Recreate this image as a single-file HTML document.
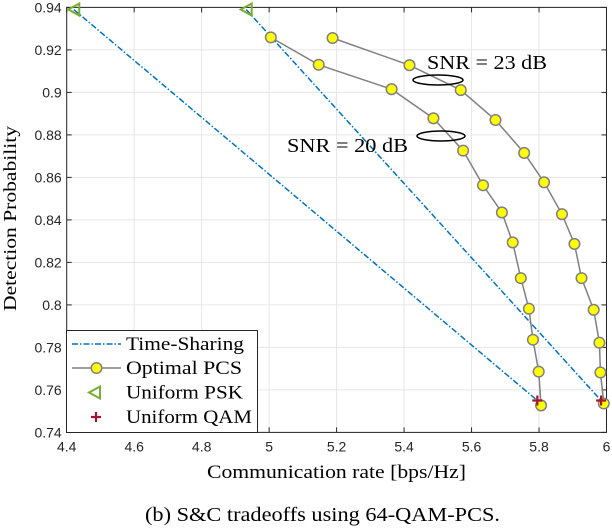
<!DOCTYPE html>
<html><head><meta charset="utf-8"><style>
html,body{margin:0;padding:0;background:#fff;}
svg{display:block;}
.tick{font-family:"Liberation Sans",sans-serif;font-size:14px;fill:#262626;}
.serif{font-family:"Liberation Serif",serif;fill:#000;}
</style></head><body>
<svg id="chart" width="612" height="528" viewBox="0 0 612 528" xmlns="http://www.w3.org/2000/svg">
<g id="grid"></g>
<g id="axes"></g>
<g id="series"></g>
<g>
<text class="serif" x="427" y="69" font-size="20" textLength="120" lengthAdjust="spacingAndGlyphs">SNR = 23 dB</text>
<ellipse cx="438" cy="80" rx="25" ry="5" fill="none" stroke="#000" stroke-width="1.5"/>
</g>
<g>
<text class="serif" x="287" y="152" font-size="20" textLength="121" lengthAdjust="spacingAndGlyphs">SNR = 20 dB</text>
<ellipse cx="441" cy="136" rx="24" ry="5" fill="none" stroke="#000" stroke-width="1.5"/>
</g>
<g>
<rect x="66.5" y="330.5" width="191" height="102" fill="#fff" stroke="#262626" stroke-width="1"/>
<g>
<line x1="72" y1="344" x2="121" y2="344" stroke="#0072bd" stroke-width="1.5" stroke-dasharray="6,2,1.5,2"/>
<text class="serif" x="126" y="350" font-size="19" textLength="118" lengthAdjust="spacingAndGlyphs">Time-Sharing</text></g>
<g>
<line x1="72" y1="368" x2="121" y2="368" stroke="#808080" stroke-width="1.5"/>
<circle cx="96.5" cy="368" r="5.3" fill="#ffff00" stroke="#808080" stroke-width="1.5"/>
<text class="serif" x="126" y="374" font-size="19" textLength="116" lengthAdjust="spacingAndGlyphs">Optimal PCS</text></g>
<g>
<polygon points="89,392.5 100,386.5 100,398.5" fill="none" stroke="#77ac30" stroke-width="2"/>
<text class="serif" x="126" y="398.5" font-size="19" textLength="117" lengthAdjust="spacingAndGlyphs">Uniform PSK</text></g>
<g>
<path d="M96,412V422M91,417H101" stroke="#a2142f" stroke-width="2.2"/>
<text class="serif" x="126" y="423" font-size="19" textLength="126" lengthAdjust="spacingAndGlyphs">Uniform QAM</text></g>
</g>
<text class="serif" x="207" y="478" font-size="19" textLength="259" lengthAdjust="spacingAndGlyphs" fill="#262626">Communication rate [bps/Hz]</text>
<text class="serif" transform="translate(16,311) rotate(-90)" font-size="18" textLength="185" lengthAdjust="spacingAndGlyphs">Detection Probability</text>
<text class="serif" x="145" y="521" font-size="20" textLength="355" lengthAdjust="spacingAndGlyphs">(b) S&amp;C tradeoffs using 64-QAM-PCS.</text>
</svg>
<script>
const xTicks=[4.4,4.6,4.8,5,5.2,5.4,5.6,5.8,6];
const xTickLabels=["4.4","4.6","4.8","5","5.2","5.4","5.6","5.8","6"];
const yTicks=[0.74,0.76,0.78,0.8,0.82,0.84,0.86,0.88,0.9,0.92,0.94];
const yTickLabels=["0.74","0.76","0.78","0.8","0.82","0.84","0.86","0.88","0.9","0.92","0.94"];
const pcs20X=[5.005,5.147,5.363,5.487,5.575,5.634,5.690,5.722,5.746,5.770,5.782,5.799,5.806];
const pcs20Y=[0.9259,0.9130,0.9015,0.8878,0.8726,0.8563,0.8435,0.8294,0.8126,0.7982,0.7836,0.7686,0.7527];
const pcs23X=[5.188,5.416,5.568,5.671,5.756,5.815,5.868,5.905,5.926,5.962,5.979,5.982,5.992];
const pcs23Y=[0.9256,0.9128,0.9011,0.8870,0.8715,0.8577,0.8427,0.8287,0.8126,0.7977,0.7822,0.7682,0.7536];
const pskX=[4.421,4.932];
const pskY=[0.939,0.939];
const qamX=[5.795,5.984];
const qamY=[0.755,0.755];

const L=66.7,R=606.5,T=7.4,B=432.4;
const sx=v=>L+(v-4.4)/(6-4.4)*(R-L);
const sy=v=>B-(v-0.74)/(0.94-0.74)*(B-T);
const NS="http://www.w3.org/2000/svg";
function mk(tag,attrs,parent){const e=document.createElementNS(NS,tag);for(const k in attrs)e.setAttribute(k,attrs[k]);parent.appendChild(e);return e;}
const grid=document.getElementById('grid'),axes=document.getElementById('axes'),series=document.getElementById('series');
mk('rect',{x:L,y:T,width:R-L,height:B-T,fill:'#fff'},grid);
xTicks.forEach((t,i)=>{
 const x=sx(t);
 const g=mk('line',{x1:x,y1:T,x2:x,y2:B,stroke:'#e6e6e6','stroke-width':1},grid);
 
 
 mk('line',{x1:x,y1:B,x2:x,y2:B-5,stroke:'#262626'},axes);
 mk('line',{x1:x,y1:T,x2:x,y2:T+5,stroke:'#262626'},axes);
 const tx=mk('text',{x:x,y:B+19,'text-anchor':'middle',class:'tick'},axes);
 tx.textContent=xTickLabels[i];
 
 
});
yTicks.forEach((t,i)=>{
 const y=sy(t);
 const g=mk('line',{x1:L,y1:y,x2:R,y2:y,stroke:'#e6e6e6','stroke-width':1},grid);
 
 
 mk('line',{x1:L,y1:y,x2:L+5,y2:y,stroke:'#262626'},axes);
 mk('line',{x1:R,y1:y,x2:R-5,y2:y,stroke:'#262626'},axes);
 const tx=mk('text',{x:L-5,y:y+5,'text-anchor':'end',class:'tick'},axes);
 tx.textContent=yTickLabels[i];
 
 
});
const box=mk('rect',{x:L,y:T,width:R-L,height:B-T,fill:'none',stroke:'#262626','stroke-width':1},axes);



for(let i=0;i<pskX.length;i++){
 const ln=mk('line',{x1:sx(pskX[i]),y1:sy(pskY[i]),x2:sx(qamX[i]),y2:sy(qamY[i]),stroke:'#0072bd','stroke-width':1.5,'stroke-dasharray':'6,2,1.5,2'},series);
 
 
}
function pcs(xs,ys,name){
 const pl=mk('polyline',{points:xs.map((v,i)=>sx(v)+','+sy(ys[i])).join(' '),fill:'none',stroke:'#808080','stroke-width':1.5},series);
 
 
 xs.forEach((v,i)=>{
  const c=mk('circle',{cx:sx(v),cy:sy(ys[i]),r:5.3,fill:'#ffff00',stroke:'#808080','stroke-width':1.5},series);
  
  
 });
}
pcs(pcs20X,pcs20Y,'pcs-snr20');
pcs(pcs23X,pcs23Y,'pcs-snr23');
pskX.forEach((v,i)=>{
 const x=sx(v),y=sy(pskY[i]);
 const p=mk('polygon',{points:`${x-5.5},${y} ${x+5.5},${y-6} ${x+5.5},${y+6}`,fill:'none',stroke:'#77ac30','stroke-width':2},series);
 
 
});
qamX.forEach((v,i)=>{
 const x=sx(v),y=sy(qamY[i]);
 const p=mk('path',{d:`M${x},${y-5}V${y+5}M${x-5},${y}H${x+5}`,stroke:'#a2142f','stroke-width':2.2},series);
 
 
});
</script>
</body></html>
